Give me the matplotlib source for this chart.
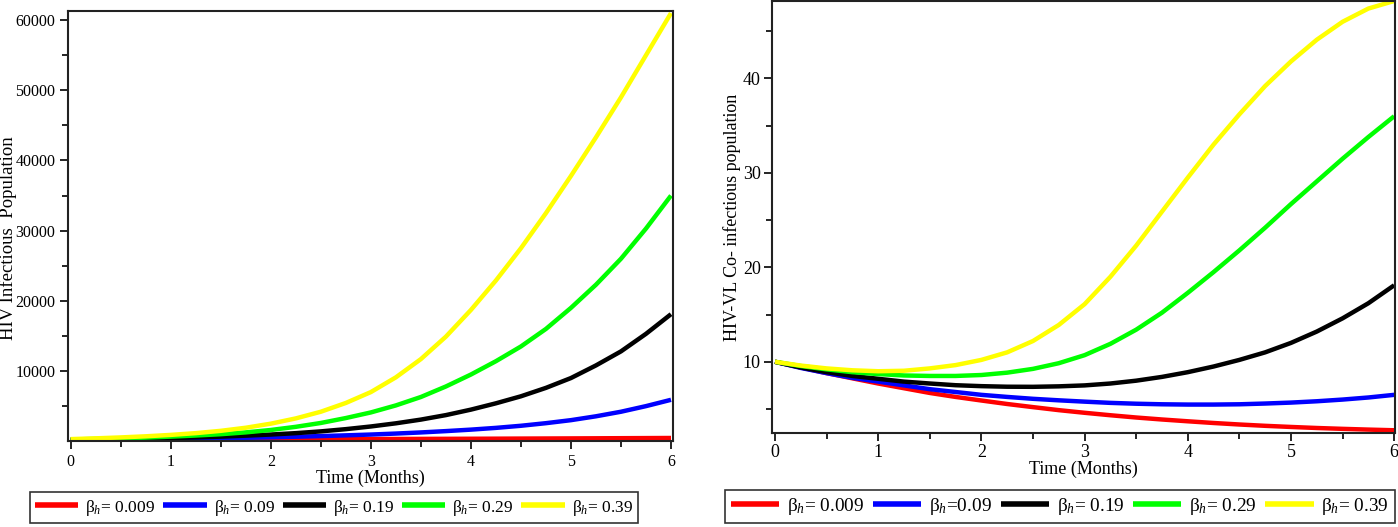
import matplotlib
matplotlib.use("Agg")
import matplotlib.pyplot as plt
from matplotlib.ticker import MultipleLocator, FixedLocator

plt.rcParams['font.family'] = ['Liberation Serif', 'DejaVu Serif']
plt.rcParams['mathtext.fontset'] = 'custom'
plt.rcParams['mathtext.rm'] = 'Liberation Serif'
plt.rcParams['mathtext.it'] = 'Liberation Serif:italic'

# ---------------- data ----------------
t = [0, 0.25, 0.5, 0.75, 1, 1.25, 1.5, 1.75, 2, 2.25, 2.5, 2.75, 3,
     3.25, 3.5, 3.75, 4, 4.25, 4.5, 4.75, 5, 5.25, 5.5, 5.75, 6]

labels_left = ["β$_{h}$= 0.009", "β$_{h}$= 0.09", "β$_{h}$= 0.19", "β$_{h}$= 0.29", "β$_{h}$= 0.39"]
labels_right = ["β$_{h}$= 0.009", "β$_{h}$=0.09", "β$_{h}$= 0.19", "β$_{h}$= 0.29", "β$_{h}$= 0.39"]
colors = ["#ff0000", "#0000ff", "#000000", "#00ff00", "#ffff00"]

# HIV infectious population (left)
hiv_b0009 = [200, 207, 215, 222, 230, 240, 250, 260, 270, 280, 290, 300, 310,
             320, 330, 340, 350, 362, 375, 388, 400, 415, 430, 445, 460]
hiv_b009 = [200, 225, 250, 285, 330, 375, 430, 490, 560, 640, 730, 835, 950,
            1090, 1250, 1440, 1650, 1900, 2200, 2570, 3000, 3550, 4200, 5000, 5900]
hiv_b019 = [200, 240, 290, 360, 450, 540, 650, 790, 950, 1150, 1400, 1720, 2100,
            2550, 3080, 3720, 4500, 5400, 6400, 7600, 9000, 10800, 12800, 15300, 18100]
hiv_b029 = [250, 320, 400, 510, 650, 810, 1000, 1260, 1600, 2050, 2600, 3300, 4100,
            5100, 6300, 7800, 9500, 11400, 13500, 16000, 19000, 22300, 26000, 30300, 35000]
hiv_b039 = [300, 410, 540, 700, 900, 1150, 1480, 1920, 2500, 3250, 4200, 5450, 7000,
            9100, 11700, 14900, 18700, 22900, 27500, 32500, 37800, 43300, 49000, 55000, 61000]

# HIV-VL co-infectious population (right)
co_b0009 = [10, 9.4, 8.8, 8.25, 7.7, 7.2, 6.7, 6.28, 5.9, 5.53, 5.2, 4.88, 4.6,
            4.34, 4.1, 3.89, 3.7, 3.52, 3.36, 3.22, 3.1, 2.99, 2.9, 2.82, 2.75]
co_b009 = [10, 9.35, 8.8, 8.3, 7.9, 7.5, 7.1, 6.8, 6.5, 6.28, 6.08, 5.92, 5.78,
           5.65, 5.56, 5.5, 5.47, 5.47, 5.5, 5.58, 5.68, 5.82, 6.0, 6.22, 6.5]
co_b019 = [10, 9.4, 8.9, 8.5, 8.2, 7.9, 7.7, 7.52, 7.42, 7.36, 7.35, 7.4, 7.5,
           7.7, 8.0, 8.4, 8.9, 9.5, 10.2, 11.0, 12.0, 13.2, 14.6, 16.2, 18.1]
co_b029 = [10, 9.55, 9.2, 8.9, 8.7, 8.55, 8.5, 8.5, 8.6, 8.85, 9.25, 9.85, 10.7,
           11.9, 13.4, 15.2, 17.3, 19.5, 21.8, 24.2, 26.7, 29.1, 31.5, 33.8, 36.0]
co_b039 = [10, 9.6, 9.3, 9.1, 9.0, 9.05, 9.3, 9.65, 10.2, 11.0, 12.2, 13.9, 16.1,
           19.0, 22.3, 25.9, 29.5, 33.0, 36.2, 39.2, 41.8, 44.1, 46.0, 47.4, 48.2]

left_series = [hiv_b0009, hiv_b009, hiv_b019, hiv_b029, hiv_b039]
right_series = [co_b0009, co_b009, co_b019, co_b029, co_b039]

W, H = 1398, 527
fig = plt.figure(figsize=(W / 100, H / 100), dpi=100)

def px_axes(x0, x1, y_top, y_bot):
    return fig.add_axes([x0 / W, 1 - y_bot / H, (x1 - x0) / W, (y_bot - y_top) / H])

axL = px_axes(68, 673, 11, 441)
axR = px_axes(772, 1395, 1, 433)

def style(ax, fs, pad):
    for s in ax.spines.values():
        s.set_linewidth(1.5)
        s.set_color('#222222')
    ax.tick_params(axis='both', which='major', direction='out', length=6, width=1.2,
                   labelsize=fs, top=False, right=False, pad=pad)
    ax.tick_params(axis='both', which='minor', direction='out', length=4, width=1.2,
                   top=False, right=False)
    ax.xaxis.set_major_locator(MultipleLocator(1))
    ax.xaxis.set_minor_locator(MultipleLocator(0.5))
    ax.set_xlabel("Time (Months)", fontsize=13, labelpad=0)

handles = []
for ys, c in zip(left_series, colors):
    ln, = axL.plot(t, ys, color=c, lw=3.2, solid_capstyle='butt')
    handles.append(ln)
style(axL, 11.5, 3)
axL.set_xlim(-0.027, 6.02)
axL.set_ylim(30, 61300)
axL.yaxis.set_major_locator(FixedLocator([10000, 20000, 30000, 40000, 50000, 60000]))
axL.yaxis.set_minor_locator(FixedLocator([5000, 15000, 25000, 35000, 45000, 55000]))
axL.set_ylabel("HIV Infectious  Population", fontsize=13.5)
axL.yaxis.set_label_coords((17 - 68) / 605, (441 - 238) / 430)

handlesR = []
for ys, c in zip(right_series, colors):
    ln, = axR.plot(t, ys, color=c, lw=3.2, solid_capstyle='butt')
    handlesR.append(ln)
style(axR, 13, 2)
axR.set_xlim(-0.029, 6.008)
axR.set_ylim(2.46, 48.2)
axR.yaxis.set_major_locator(FixedLocator([10, 20, 30, 40]))
axR.yaxis.set_minor_locator(FixedLocator([5, 15, 25, 35, 45]))
axR.set_ylabel("HIV-VL Co- infectious population", fontsize=13)
axR.yaxis.set_label_coords((741 - 772) / 623, 0.5)

def add_legend(hs, labs, x0, x1, y_top, y_bot, fs):
    leg = fig.legend(hs, labs, loc='center',
                     bbox_to_anchor=((x0 + x1) / 2 / W, 1 - (y_top + y_bot) / 2 / H),
                     ncol=5, fontsize=fs, frameon=True, fancybox=False,
                     handlelength=2.5, handletextpad=0.4, columnspacing=0.45,
                     borderpad=0.3, borderaxespad=0)
    leg.get_frame().set_edgecolor('black')
    leg.get_frame().set_linewidth(1.2)
    for l in leg.get_lines():
        l.set_linewidth(4)
    return leg

add_legend(handles, labels_left, 31, 637, 489, 526, 12.5)
add_legend(handlesR, labels_right, 724, 1396, 487, 526, 13.9)

fig.savefig("out.png", dpi=100)
